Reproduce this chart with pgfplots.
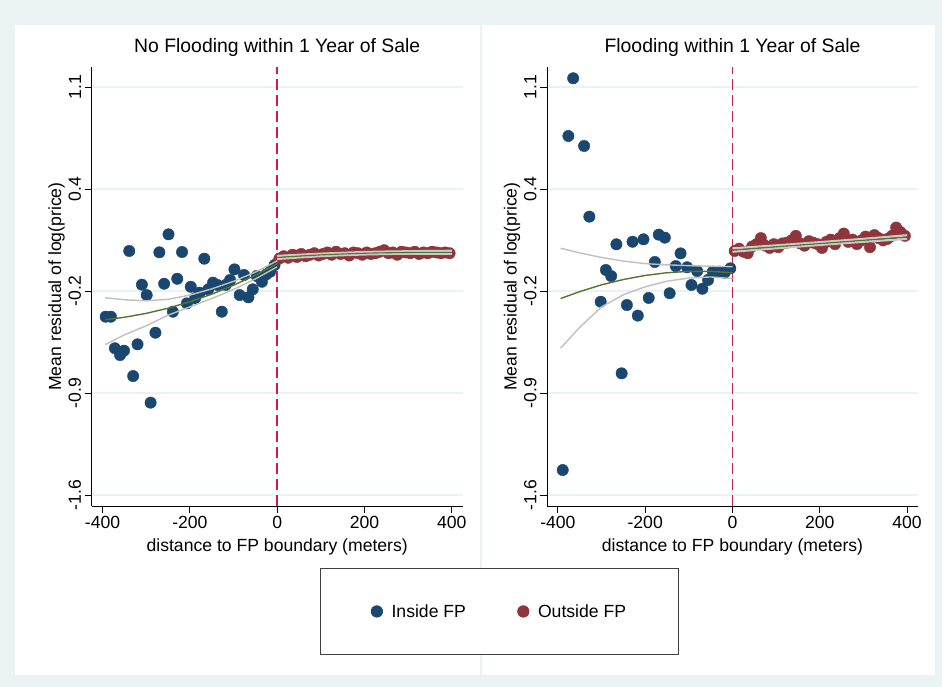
\documentclass[border=0pt]{standalone}
\usepackage{fontspec}
\setmainfont{Liberation Sans}
\usepackage{pgfplots}
\usepackage{pgfplotstable}
\pgfplotsset{compat=1.18}

\definecolor{bgband}{RGB}{234,242,243}
\definecolor{navy}{RGB}{26,71,111}
\definecolor{maroonS}{RGB}{144,53,59}
\definecolor{fitgreen}{RGB}{85,117,47}
\definecolor{cigray}{RGB}{192,192,192}
\definecolor{cutred}{RGB}{205,30,72}

\newcommand\lab{\fontsize{17.6}{21}\selectfont}
\newcommand\ttl{\fontsize{19.4}{23}\selectfont}

% ---- binned means, no flooding within 1 year ----
\pgfplotstableread{
x y
-393 -0.420
-381 -0.420
-372 -0.629
-360 -0.674
-351 -0.645
-339 0.015
-330 -0.813
-320 -0.603
-310 -0.208
-299 -0.277
-290 -0.989
-279 -0.526
-270 0.006
-259 -0.202
-249 0.125
-239 -0.387
-229 -0.169
-218 0.008
-207 -0.332
-198 -0.222
-188 -0.298
-178 -0.261
-167 -0.036
-158 -0.239
-147 -0.195
-137 -0.210
-127 -0.387
-118 -0.210
-108 -0.177
-98 -0.107
-86 -0.277
-76 -0.144
-66 -0.292
-56 -0.239
-47 -0.151
-35 -0.189
-25 -0.140
-16 -0.122
-6 -0.078
}\noInside

\pgfplotstableread{
x y
5 -0.035
15 -0.020
25 -0.030
35 -0.010
45 -0.025
55 -0.005
65 -0.020
75 -0.010
85 0.000
95 -0.015
105 -0.005
115 0.005
125 -0.010
135 0.010
145 -0.005
155 0.000
165 -0.015
175 0.005
185 0.000
195 -0.010
205 0.005
215 -0.005
225 0.000
235 0.010
245 0.020
255 0.000
265 0.005
275 -0.010
285 0.010
295 0.005
305 0.000
315 0.010
325 -0.005
335 0.005
345 0.000
355 0.010
365 0.005
375 0.000
385 0.005
395 0.000
}\noOutside

% ---- binned means, flooding within 1 year ----
\pgfplotstableread{
x y
-389 -1.435
-376 0.776
-365 1.158
-340 0.710
-328 0.242
-302 -0.321
-290 -0.111
-278 -0.151
-266 0.059
-254 -0.795
-242 -0.343
-229 0.076
-217 -0.413
-204 0.092
-192 -0.296
-178 -0.058
-169 0.123
-155 0.103
-144 -0.265
-130 -0.085
-119 -0.001
-104 -0.093
-94 -0.210
-81 -0.118
-69 -0.235
-56 -0.177
-45 -0.122
-30 -0.122
-18 -0.129
-5 -0.100
}\flInside

\pgfplotstableread{
x y
5 0.015
15 0.030
25 0.010
35 0.000
45 0.045
55 0.060
65 0.100
75 0.050
85 0.035
95 0.060
105 0.040
115 0.065
125 0.070
135 0.085
145 0.115
155 0.065
165 0.050
175 0.080
185 0.070
195 0.060
205 0.035
215 0.075
225 0.090
235 0.060
245 0.100
255 0.130
265 0.075
275 0.090
285 0.060
295 0.085
305 0.110
315 0.040
325 0.120
335 0.100
345 0.085
355 0.095
365 0.115
375 0.170
385 0.140
395 0.115
}\flOutside

% ---- fitted lines with confidence bounds (x, fit, upper, lower) ----
\pgfplotstableread{
x fit up lo
-394 -0.440 -0.295 -0.605
-350 -0.424 -0.308 -0.540
-300 -0.398 -0.315 -0.480
-250 -0.364 -0.305 -0.410
-200 -0.321 -0.277 -0.355
-150 -0.271 -0.236 -0.300
-100 -0.212 -0.186 -0.240
-50 -0.145 -0.125 -0.170
0 -0.070 -0.050 -0.090
}\noInFit

\pgfplotstableread{
x fit up lo
0 -0.028 -0.018 -0.038
50 -0.019 -0.010 -0.028
100 -0.011 -0.003 -0.019
150 -0.005 0.003 -0.013
200 0.000 0.008 -0.008
250 0.003 0.011 -0.005
300 0.005 0.013 -0.003
350 0.006 0.015 -0.003
400 0.006 0.016 -0.004
}\noOutFit

\pgfplotstableread{
x fit up lo
-394 -0.300 0.033 -0.629
-350 -0.254 0.002 -0.490
-300 -0.209 -0.028 -0.355
-250 -0.174 -0.052 -0.275
-200 -0.147 -0.069 -0.222
-150 -0.129 -0.077 -0.185
-100 -0.120 -0.082 -0.164
-50 -0.120 -0.086 -0.157
0 -0.129 -0.089 -0.168
}\flInFit

\pgfplotstableread{
x fit up lo
0 0.021 0.032 0.010
100 0.0425 0.052 0.033
200 0.064 0.073 0.055
300 0.0855 0.095 0.076
400 0.107 0.119 0.095
}\flOutFit

\pgfplotsset{
  panel/.style={
    scale only axis, width=371pt, height=438.9pt,
    xmin=-425, xmax=425, ymin=-1.673, ymax=1.232,
    clip marker paths=true,
    axis x line*=bottom, axis y line*=left,
    every outer x axis line/.append style={-},
    every outer y axis line/.append style={-},
    axis line style={black, line width=0.9pt, -},
    tick align=outside, major tick length=7pt,
    tick style={black, line width=0.9pt},
    xtick={-400,-200,0,200,400}, xticklabels={-400,-200,0,200,400},
    ytick={-1.6,-0.925,-0.25,0.425,1.1},
    yticklabels={-1.6,-0.9,-0.2,0.4,1.1},
    ymajorgrids, grid style={bgband, line width=1.5pt},
    yticklabel style={rotate=90, anchor=south, font=\lab},
    xticklabel style={font=\lab},
    xlabel={distance to FP boundary (meters)},
    ylabel={Mean residual of log(price)},
    xlabel style={at={(axis description cs:0.5,-0.0934)}, anchor=center, font=\lab},
    ylabel style={at={(axis description cs:-0.0944,0.5)}, anchor=center, font=\lab},
    title style={at={(axis description cs:0.5,1.0319)}, anchor=center, font=\ttl},
  },
  inmark/.style={only marks, mark=*, mark size=5.7pt,
    mark options={fill=navy, draw=navy}, color=navy},
  outmark/.style={only marks, mark=*, mark size=5.7pt,
    mark options={fill=maroonS, draw=maroonS}, color=maroonS},
  ciline/.style={cigray, line width=1.4pt, forget plot},
  cibold/.style={cigray!85!white, line width=2.2pt, forget plot},
  fitline/.style={fitgreen, line width=1.4pt, forget plot},
  cutoff/.style={cutred, line width=1.7pt, dash pattern=on 11pt off 5pt, forget plot},
}

\begin{document}
\begin{tikzpicture}[x=1pt,y=1pt]
  \path[use as bounding box] (0,0) rectangle (942,687);
  \fill[bgband] (0,0) rectangle (942,687);
  \fill[white] (15,12) rectangle (935,662);
  \draw[bgband, line width=2pt] (481,12) -- (481,662);

  % left panel
  \begin{axis}[panel, at={(91.7pt,181pt)}, anchor=south west,
      title={No Flooding within 1 Year of Sale}]
    \addplot[cutoff] coordinates {(0,-1.673) (0,1.232)};
    \addplot[inmark, forget plot] table[x=x,y=y] {\noInside};
    \addplot[outmark, forget plot] table[x=x,y=y] {\noOutside};
    \addplot[ciline] table[x=x,y=up] {\noInFit};
    \addplot[ciline] table[x=x,y=lo] {\noInFit};
    \addplot[fitline] table[x=x,y=fit] {\noInFit};
    \addplot[cibold] table[x=x,y=up] {\noOutFit};
    \addplot[cibold] table[x=x,y=lo] {\noOutFit};
    \addplot[fitline, line width=1.1pt] table[x=x,y=fit] {\noOutFit};
  \end{axis}

  % right panel, carries the shared legend
  \begin{axis}[panel, at={(547pt,181pt)}, anchor=south west,
      title={Flooding within 1 Year of Sale},
      legend columns=2,
      legend cell align=left,
      legend style={at={(axis description cs:-0.1277,-0.2403)}, anchor=center,
        draw=black!75, line width=0.8pt, fill=white,
        inner xsep=50.7pt, inner ysep=34pt, font=\lab,
        /tikz/every odd column/.append style={column sep=7pt},
        /tikz/every even column/.append style={column sep=49.7pt}},
    ]
    \addplot[cutoff] coordinates {(0,-1.673) (0,1.232)};
    \addplot[inmark] table[x=x,y=y] {\flInside};
    \addlegendentry{Inside FP}
    \addplot[outmark] table[x=x,y=y] {\flOutside};
    \addlegendentry{Outside FP}
    \addplot[ciline] table[x=x,y=up] {\flInFit};
    \addplot[ciline] table[x=x,y=lo] {\flInFit};
    \addplot[fitline] table[x=x,y=fit] {\flInFit};
    \addplot[cibold] table[x=x,y=up] {\flOutFit};
    \addplot[cibold] table[x=x,y=lo] {\flOutFit};
    \addplot[fitline, line width=1.1pt] table[x=x,y=fit] {\flOutFit};
  \end{axis}
\end{tikzpicture}
\end{document}
